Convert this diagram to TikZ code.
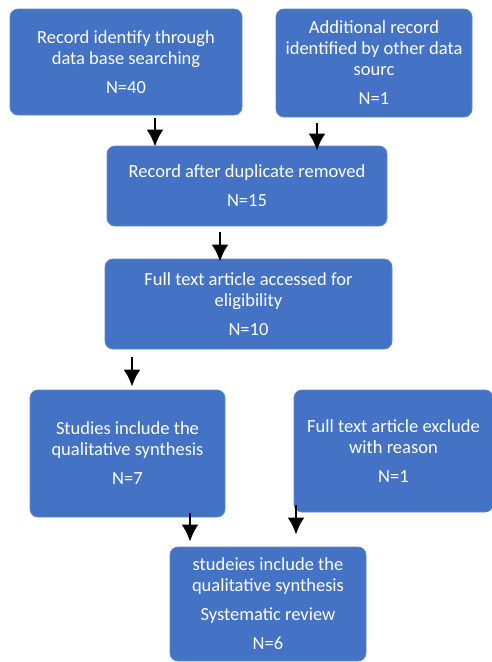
\documentclass[tikz,border=0pt]{standalone}
\usepackage{fontspec}
\setmainfont{Carlito}
\usepackage{tikz}
\usetikzlibrary{positioning,arrows.meta}
\definecolor{boxblue}{HTML}{4472C4}
\tikzset{flowbox/.style={rectangle,rounded corners=8pt,fill=boxblue,draw=boxblue!85!white,line width=0.8pt,text=white,align=center,inner sep=0pt,font=\fontsize{18.5}{21}\selectfont}}
\tikzset{flowarrow/.style={-{Latex[length=17pt,width=17pt]},line width=2.6pt,black}}

\begin{document}
\begin{tikzpicture}[x=1pt,y=-1pt]
	\useasboundingbox (0,0) rectangle (492,662);
	%% boxes
	\node[flowbox,minimum width=232pt,minimum height=106pt] (recdb) at (126,62) {Record identify through\\data base searching\\[8pt]N=40};
	\node[flowbox,minimum width=196pt,minimum height=108pt] (recother) at (374,63) {Additional record\\identified by other data\\sourc\\[8pt]N=1};
	\node[flowbox,minimum width=280pt,minimum height=80pt] (dupl) at (247,186) {Record after duplicate removed\\[8pt]N=15};
	\node[flowbox,minimum width=287pt,minimum height=90pt] (fulltext) at (248.5,304) {Full text article accessed for\\eligibility\\[8pt]N=10};
	\node[flowbox,minimum width=195pt,minimum height=127pt] (incl) at (127.5,453.5) {Studies include the\\qualitative synthesis\\[8pt]N=7};
	\node[flowbox,minimum width=199pt,minimum height=122pt] (excl) at (393.5,451) {Full text article exclude\\with reason\\[8pt]N=1};
	\node[flowbox,minimum width=196pt,minimum height=114pt] (review) at (268,604) {studeies include the\\qualitative synthesis\\[8pt]Systematic review\\[8pt]N=6};
	%% arrow columns
	\coordinate (c1) at (155,0);
	\coordinate (c2) at (317,0);
	\coordinate (c3) at (220,0);
	\coordinate (c4) at (132,0);
	\coordinate (c5) at (190,0);
	\coordinate (c6) at (296,0);
	%% arrows
	\draw[flowarrow] ([yshift=-3pt]recdb.south -| c1) -- ([yshift=-1pt]dupl.north -| c1);
	\draw[flowarrow] ([yshift=-6pt]recother.south -| c2) -- ([yshift=-5pt]dupl.north -| c2);
	\draw[flowarrow] ([yshift=-6pt]dupl.south -| c3) -- ([yshift=-3pt]fulltext.north -| c3);
	\draw[flowarrow] ([yshift=-8pt]fulltext.south -| c4) -- ([yshift=3pt]incl.north -| c4);
	\draw[flowarrow] ([yshift=4pt]incl.south -| c5) -- ([yshift=5pt]review.north -| c5);
	\draw[flowarrow] ([yshift=7pt]excl.south -| c6) -- ([yshift=12pt]review.north -| c6);
\end{tikzpicture}
\end{document}
